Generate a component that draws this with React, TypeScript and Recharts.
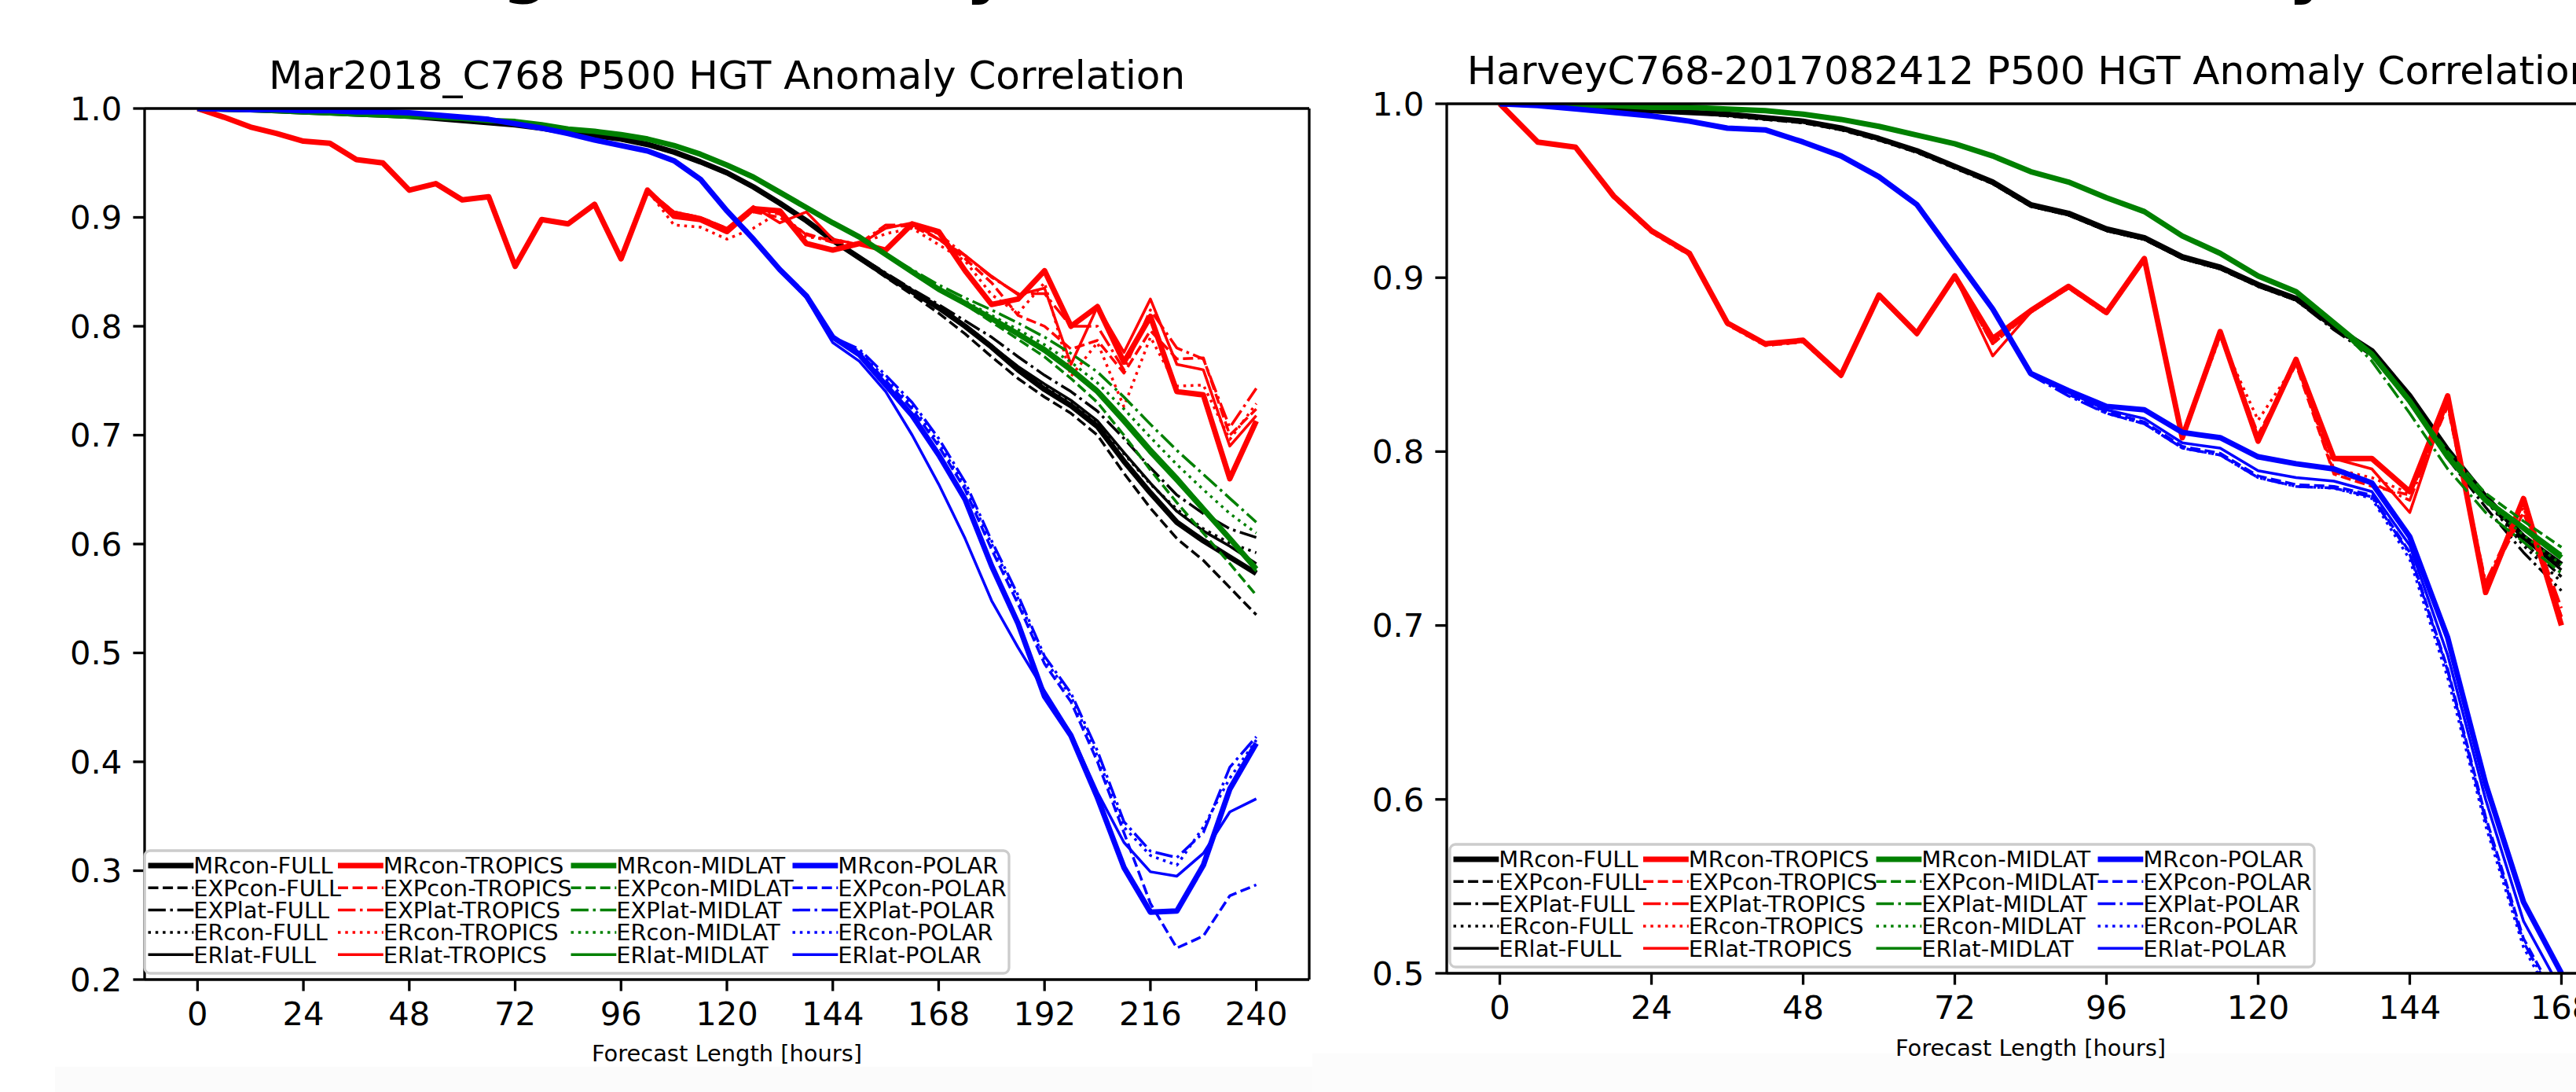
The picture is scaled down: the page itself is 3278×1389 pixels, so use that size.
import React from 'react';
import { LineChart, Line, XAxis, YAxis, ReferenceLine } from 'recharts';

const FONT = '"DejaVu Sans", Verdana, sans-serif';

// ---------------- x values and ticks ----------------
const marHours = [0, 6, 12, 18, 24, 30, 36, 42, 48, 54, 60, 66, 72, 78, 84, 90, 96, 102, 108, 114, 120, 126, 132, 138, 144, 150, 156, 162, 168, 174, 180, 186, 192, 198, 204, 210, 216, 222, 228, 234, 240];
const harHours = [0, 6, 12, 18, 24, 30, 36, 42, 48, 54, 60, 66, 72, 78, 84, 90, 96, 102, 108, 114, 120, 126, 132, 138, 144, 150, 156, 162, 168];
const marXTicks = [0, 24, 48, 72, 96, 120, 144, 168, 192, 216, 240];
const marYTicks = [0.2, 0.3, 0.4, 0.5, 0.6, 0.7, 0.8, 0.9, 1.0];
const harXTicks = [0, 24, 48, 72, 96, 120, 144, 168];
const harYTicks = [0.5, 0.6, 0.7, 0.8, 0.9, 1.0];

const regions = ['FULL', 'TROPICS', 'MIDLAT', 'POLAR'];
const experiments = ['MRcon', 'EXPcon', 'EXPlat', 'ERcon', 'ERlat'];

const marTitle = 'Mar2018_C768 P500 HGT Anomaly Correlation';
const harTitle = 'HarveyC768-2017082412 P500 HGT Anomaly Correlation';
const xLabel = 'Forecast Length [hours]';

// ---------------- Mar2018 panel (0-240 h) ----------------
const mar_MRcon_FULL = [1.0, 0.9995, 0.999, 0.998, 0.997, 0.996, 0.995, 0.994, 0.993, 0.991, 0.989, 0.987, 0.985, 0.982, 0.978, 0.975, 0.972, 0.967, 0.960, 0.951, 0.941, 0.928, 0.913, 0.897, 0.879, 0.863, 0.847, 0.832, 0.817, 0.800, 0.781, 0.760, 0.742, 0.727, 0.708, 0.676, 0.647, 0.620, 0.603, 0.588, 0.573];
const mar_EXPcon_FULL = [1.0, 0.9995, 0.999, 0.998, 0.997, 0.996, 0.995, 0.994, 0.993, 0.991, 0.989, 0.987, 0.985, 0.982, 0.978, 0.975, 0.971, 0.966, 0.959, 0.950, 0.940, 0.927, 0.912, 0.896, 0.878, 0.862, 0.845, 0.829, 0.812, 0.793, 0.772, 0.752, 0.735, 0.720, 0.700, 0.665, 0.633, 0.605, 0.585, 0.560, 0.535];
const mar_EXPlat_FULL = [1.0, 0.9995, 0.999, 0.998, 0.997, 0.996, 0.995, 0.994, 0.993, 0.991, 0.989, 0.987, 0.985, 0.982, 0.978, 0.975, 0.972, 0.967, 0.960, 0.951, 0.941, 0.928, 0.913, 0.897, 0.880, 0.864, 0.849, 0.834, 0.820, 0.805, 0.790, 0.772, 0.755, 0.740, 0.722, 0.697, 0.670, 0.645, 0.628, 0.614, 0.606];
const mar_ERcon_FULL = [1.0, 0.9995, 0.999, 0.998, 0.997, 0.996, 0.995, 0.994, 0.993, 0.991, 0.989, 0.987, 0.985, 0.982, 0.978, 0.975, 0.972, 0.967, 0.960, 0.951, 0.941, 0.928, 0.913, 0.897, 0.879, 0.863, 0.847, 0.832, 0.817, 0.800, 0.781, 0.762, 0.745, 0.730, 0.712, 0.683, 0.655, 0.632, 0.614, 0.601, 0.592];
const mar_ERlat_FULL = [1.0, 0.9995, 0.999, 0.998, 0.997, 0.996, 0.995, 0.994, 0.993, 0.991, 0.989, 0.987, 0.985, 0.982, 0.978, 0.975, 0.972, 0.967, 0.960, 0.951, 0.941, 0.928, 0.913, 0.897, 0.879, 0.864, 0.848, 0.833, 0.818, 0.801, 0.782, 0.763, 0.747, 0.732, 0.713, 0.684, 0.656, 0.630, 0.612, 0.598, 0.582];

const mar_MRcon_TROPICS = [1.0, 0.992, 0.983, 0.977, 0.970, 0.968, 0.953, 0.950, 0.925, 0.931, 0.916, 0.919, 0.855, 0.898, 0.894, 0.912, 0.862, 0.925, 0.901, 0.898, 0.887, 0.908, 0.906, 0.876, 0.870, 0.876, 0.870, 0.894, 0.887, 0.851, 0.820, 0.825, 0.851, 0.800, 0.818, 0.767, 0.809, 0.740, 0.737, 0.660, 0.713];
const mar_EXPcon_TROPICS = [1.0, 0.992, 0.983, 0.977, 0.970, 0.968, 0.953, 0.950, 0.925, 0.931, 0.916, 0.919, 0.855, 0.898, 0.894, 0.912, 0.862, 0.925, 0.905, 0.900, 0.890, 0.905, 0.900, 0.885, 0.878, 0.875, 0.892, 0.892, 0.880, 0.862, 0.840, 0.810, 0.800, 0.779, 0.787, 0.757, 0.796, 0.770, 0.771, 0.700, 0.724];
const mar_EXPlat_TROPICS = [1.0, 0.992, 0.983, 0.977, 0.970, 0.968, 0.953, 0.950, 0.925, 0.931, 0.916, 0.919, 0.855, 0.898, 0.894, 0.912, 0.862, 0.925, 0.903, 0.898, 0.888, 0.907, 0.903, 0.884, 0.877, 0.876, 0.893, 0.893, 0.885, 0.865, 0.845, 0.830, 0.830, 0.800, 0.800, 0.760, 0.815, 0.780, 0.770, 0.707, 0.743];
const mar_ERcon_TROPICS = [1.0, 0.992, 0.983, 0.977, 0.970, 0.968, 0.953, 0.950, 0.925, 0.931, 0.916, 0.919, 0.855, 0.898, 0.894, 0.912, 0.862, 0.925, 0.893, 0.891, 0.880, 0.890, 0.905, 0.882, 0.880, 0.875, 0.885, 0.890, 0.875, 0.860, 0.829, 0.812, 0.840, 0.754, 0.785, 0.726, 0.790, 0.745, 0.746, 0.696, 0.729];
const mar_ERlat_TROPICS = [1.0, 0.992, 0.983, 0.977, 0.970, 0.968, 0.953, 0.950, 0.925, 0.931, 0.916, 0.919, 0.855, 0.898, 0.894, 0.912, 0.862, 0.925, 0.905, 0.900, 0.890, 0.910, 0.895, 0.905, 0.880, 0.875, 0.890, 0.895, 0.880, 0.865, 0.846, 0.829, 0.835, 0.765, 0.818, 0.776, 0.825, 0.765, 0.760, 0.690, 0.718];

const mar_MRcon_MIDLAT = [1.0, 0.9995, 0.999, 0.998, 0.997, 0.996, 0.995, 0.994, 0.993, 0.992, 0.991, 0.989, 0.988, 0.985, 0.981, 0.979, 0.976, 0.972, 0.966, 0.958, 0.948, 0.937, 0.923, 0.909, 0.895, 0.882, 0.866, 0.850, 0.834, 0.821, 0.807, 0.793, 0.778, 0.760, 0.740, 0.713, 0.685, 0.659, 0.632, 0.605, 0.577];
const mar_EXPcon_MIDLAT = [1.0, 0.9995, 0.999, 0.998, 0.997, 0.996, 0.995, 0.994, 0.993, 0.992, 0.991, 0.989, 0.988, 0.985, 0.981, 0.979, 0.976, 0.972, 0.966, 0.958, 0.948, 0.937, 0.923, 0.909, 0.895, 0.882, 0.866, 0.850, 0.834, 0.820, 0.804, 0.788, 0.772, 0.752, 0.730, 0.700, 0.668, 0.638, 0.610, 0.582, 0.553];
const mar_EXPlat_MIDLAT = [1.0, 0.9995, 0.999, 0.998, 0.997, 0.996, 0.995, 0.994, 0.993, 0.992, 0.991, 0.989, 0.988, 0.985, 0.981, 0.979, 0.976, 0.972, 0.966, 0.958, 0.948, 0.937, 0.923, 0.909, 0.895, 0.882, 0.866, 0.852, 0.838, 0.826, 0.815, 0.803, 0.790, 0.775, 0.758, 0.735, 0.710, 0.686, 0.664, 0.642, 0.620];
const mar_ERcon_MIDLAT = [1.0, 0.9995, 0.999, 0.998, 0.997, 0.996, 0.995, 0.994, 0.993, 0.992, 0.991, 0.989, 0.988, 0.985, 0.981, 0.979, 0.976, 0.972, 0.966, 0.958, 0.948, 0.937, 0.923, 0.909, 0.895, 0.882, 0.866, 0.850, 0.834, 0.823, 0.810, 0.797, 0.783, 0.767, 0.748, 0.724, 0.698, 0.673, 0.650, 0.628, 0.610];
const mar_ERlat_MIDLAT = [1.0, 0.9995, 0.999, 0.998, 0.997, 0.996, 0.995, 0.994, 0.993, 0.992, 0.991, 0.989, 0.988, 0.985, 0.981, 0.979, 0.976, 0.972, 0.966, 0.958, 0.948, 0.937, 0.923, 0.909, 0.895, 0.882, 0.866, 0.850, 0.834, 0.822, 0.808, 0.794, 0.780, 0.762, 0.742, 0.716, 0.688, 0.662, 0.634, 0.606, 0.575];

const mar_MRcon_POLAR = [1.0, 0.9995, 0.999, 0.999, 0.998, 0.998, 0.997, 0.997, 0.996, 0.994, 0.992, 0.990, 0.986, 0.982, 0.977, 0.971, 0.966, 0.961, 0.952, 0.935, 0.906, 0.880, 0.852, 0.828, 0.790, 0.774, 0.746, 0.718, 0.682, 0.641, 0.580, 0.527, 0.460, 0.424, 0.367, 0.303, 0.262, 0.263, 0.305, 0.375, 0.417];
const mar_EXPcon_POLAR = [1.0, 0.9995, 0.999, 0.999, 0.998, 0.998, 0.997, 0.997, 0.996, 0.994, 0.992, 0.990, 0.986, 0.982, 0.977, 0.971, 0.966, 0.961, 0.952, 0.935, 0.906, 0.880, 0.852, 0.828, 0.790, 0.776, 0.750, 0.724, 0.690, 0.650, 0.595, 0.545, 0.490, 0.455, 0.400, 0.335, 0.270, 0.229, 0.240, 0.277, 0.287];
const mar_EXPlat_POLAR = [1.0, 0.9995, 0.999, 0.999, 0.998, 0.998, 0.997, 0.997, 0.996, 0.994, 0.992, 0.990, 0.986, 0.982, 0.977, 0.971, 0.966, 0.961, 0.952, 0.935, 0.906, 0.880, 0.852, 0.828, 0.790, 0.779, 0.755, 0.730, 0.697, 0.657, 0.603, 0.553, 0.497, 0.463, 0.410, 0.345, 0.318, 0.312, 0.335, 0.395, 0.423];
const mar_ERcon_POLAR = [1.0, 0.9995, 0.999, 0.999, 0.998, 0.998, 0.997, 0.997, 0.996, 0.994, 0.992, 0.990, 0.986, 0.982, 0.977, 0.971, 0.966, 0.961, 0.952, 0.935, 0.906, 0.880, 0.852, 0.828, 0.790, 0.777, 0.752, 0.727, 0.693, 0.653, 0.600, 0.550, 0.494, 0.460, 0.405, 0.340, 0.314, 0.305, 0.340, 0.385, 0.420];
const mar_ERlat_POLAR = [1.0, 0.9995, 0.999, 0.999, 0.998, 0.998, 0.997, 0.997, 0.996, 0.994, 0.992, 0.990, 0.986, 0.982, 0.977, 0.971, 0.966, 0.961, 0.952, 0.935, 0.906, 0.880, 0.852, 0.826, 0.785, 0.768, 0.740, 0.700, 0.655, 0.605, 0.548, 0.505, 0.465, 0.426, 0.372, 0.326, 0.299, 0.295, 0.316, 0.354, 0.366];

// ---------------- Harvey panel (0-168 h) ----------------
const har_MRcon_FULL = [1.0, 0.9995, 0.998, 0.997, 0.996, 0.995, 0.994, 0.992, 0.990, 0.986, 0.980, 0.973, 0.964, 0.955, 0.942, 0.937, 0.928, 0.923, 0.912, 0.906, 0.896, 0.888, 0.872, 0.858, 0.832, 0.801, 0.774, 0.751, 0.735];
const har_EXPcon_FULL = [1.0, 0.9995, 0.998, 0.997, 0.996, 0.995, 0.993, 0.991, 0.989, 0.985, 0.979, 0.972, 0.963, 0.954, 0.941, 0.936, 0.927, 0.922, 0.911, 0.905, 0.895, 0.887, 0.871, 0.857, 0.833, 0.800, 0.772, 0.748, 0.728];
const har_EXPlat_FULL = [1.0, 0.9995, 0.998, 0.997, 0.996, 0.995, 0.994, 0.992, 0.990, 0.986, 0.980, 0.973, 0.964, 0.955, 0.942, 0.936, 0.927, 0.922, 0.911, 0.905, 0.895, 0.887, 0.870, 0.855, 0.828, 0.796, 0.768, 0.742, 0.720];
const har_ERcon_FULL = [1.0, 0.9995, 0.998, 0.997, 0.996, 0.995, 0.993, 0.991, 0.989, 0.985, 0.979, 0.972, 0.963, 0.954, 0.941, 0.936, 0.927, 0.922, 0.911, 0.905, 0.895, 0.887, 0.871, 0.856, 0.830, 0.799, 0.772, 0.746, 0.725];
const har_ERlat_FULL = [1.0, 0.9995, 0.998, 0.997, 0.996, 0.995, 0.994, 0.992, 0.990, 0.986, 0.980, 0.973, 0.964, 0.954, 0.941, 0.936, 0.927, 0.922, 0.911, 0.905, 0.896, 0.888, 0.872, 0.857, 0.831, 0.800, 0.773, 0.750, 0.732];

const har_MRcon_TROPICS = [1.0, 0.978, 0.975, 0.947, 0.927, 0.914, 0.874, 0.862, 0.864, 0.844, 0.890, 0.868, 0.901, 0.865, 0.881, 0.895, 0.880, 0.911, 0.808, 0.869, 0.806, 0.853, 0.796, 0.796, 0.777, 0.832, 0.719, 0.773, 0.700];
const har_EXPcon_TROPICS = [1.0, 0.978, 0.975, 0.946, 0.926, 0.913, 0.873, 0.861, 0.863, 0.844, 0.889, 0.867, 0.900, 0.862, 0.880, 0.894, 0.879, 0.910, 0.809, 0.867, 0.810, 0.850, 0.787, 0.780, 0.775, 0.826, 0.722, 0.765, 0.705];
const har_EXPlat_TROPICS = [1.0, 0.978, 0.975, 0.947, 0.927, 0.914, 0.874, 0.862, 0.864, 0.844, 0.889, 0.868, 0.900, 0.862, 0.881, 0.895, 0.880, 0.910, 0.808, 0.868, 0.808, 0.852, 0.788, 0.782, 0.772, 0.828, 0.725, 0.770, 0.710];
const har_ERcon_TROPICS = [1.0, 0.978, 0.975, 0.946, 0.926, 0.913, 0.873, 0.861, 0.863, 0.843, 0.889, 0.867, 0.900, 0.862, 0.880, 0.894, 0.879, 0.910, 0.808, 0.866, 0.818, 0.851, 0.790, 0.785, 0.776, 0.828, 0.723, 0.768, 0.702];
const har_ERlat_TROPICS = [1.0, 0.978, 0.975, 0.947, 0.927, 0.914, 0.874, 0.862, 0.864, 0.844, 0.890, 0.868, 0.901, 0.855, 0.880, 0.895, 0.880, 0.911, 0.808, 0.869, 0.806, 0.853, 0.796, 0.790, 0.765, 0.830, 0.720, 0.772, 0.705];

const har_MRcon_MIDLAT = [1.0, 1.0, 0.999, 0.999, 0.998, 0.998, 0.997, 0.996, 0.994, 0.991, 0.987, 0.982, 0.977, 0.970, 0.961, 0.955, 0.946, 0.938, 0.924, 0.914, 0.901, 0.892, 0.874, 0.856, 0.829, 0.797, 0.772, 0.756, 0.739];
const har_EXPcon_MIDLAT = [1.0, 1.0, 0.999, 0.999, 0.998, 0.998, 0.997, 0.996, 0.994, 0.991, 0.987, 0.982, 0.977, 0.970, 0.961, 0.955, 0.946, 0.938, 0.924, 0.914, 0.901, 0.892, 0.874, 0.856, 0.829, 0.800, 0.776, 0.760, 0.745];
const har_EXPlat_MIDLAT = [1.0, 1.0, 0.999, 0.999, 0.998, 0.998, 0.997, 0.996, 0.994, 0.991, 0.987, 0.982, 0.977, 0.970, 0.961, 0.955, 0.946, 0.938, 0.924, 0.914, 0.901, 0.892, 0.874, 0.852, 0.822, 0.790, 0.765, 0.748, 0.730];
const har_ERcon_MIDLAT = [1.0, 1.0, 0.999, 0.999, 0.998, 0.998, 0.997, 0.996, 0.994, 0.991, 0.987, 0.982, 0.977, 0.970, 0.961, 0.955, 0.946, 0.938, 0.924, 0.914, 0.901, 0.892, 0.874, 0.856, 0.829, 0.798, 0.771, 0.752, 0.735];
const har_ERlat_MIDLAT = [1.0, 1.0, 0.999, 0.999, 0.998, 0.998, 0.997, 0.996, 0.994, 0.991, 0.987, 0.982, 0.977, 0.970, 0.961, 0.955, 0.946, 0.938, 0.924, 0.914, 0.901, 0.892, 0.874, 0.856, 0.828, 0.797, 0.773, 0.757, 0.741];

const har_MRcon_POLAR = [1.0, 0.999, 0.997, 0.995, 0.993, 0.990, 0.986, 0.985, 0.978, 0.970, 0.958, 0.942, 0.912, 0.882, 0.845, 0.835, 0.826, 0.824, 0.811, 0.808, 0.797, 0.793, 0.790, 0.782, 0.751, 0.693, 0.609, 0.541, 0.500];
const har_EXPcon_POLAR = [1.0, 0.999, 0.997, 0.995, 0.993, 0.990, 0.986, 0.985, 0.978, 0.970, 0.958, 0.942, 0.912, 0.882, 0.845, 0.833, 0.823, 0.817, 0.803, 0.799, 0.786, 0.781, 0.780, 0.775, 0.742, 0.675, 0.590, 0.520, 0.480];
const har_EXPlat_POLAR = [1.0, 0.999, 0.997, 0.995, 0.993, 0.990, 0.986, 0.985, 0.978, 0.970, 0.958, 0.942, 0.912, 0.882, 0.844, 0.832, 0.822, 0.816, 0.802, 0.798, 0.785, 0.780, 0.779, 0.774, 0.741, 0.674, 0.588, 0.518, 0.478];
const har_ERcon_POLAR = [1.0, 0.999, 0.997, 0.995, 0.993, 0.990, 0.986, 0.985, 0.978, 0.970, 0.958, 0.942, 0.912, 0.882, 0.845, 0.833, 0.822, 0.816, 0.802, 0.798, 0.785, 0.780, 0.779, 0.773, 0.738, 0.670, 0.585, 0.515, 0.475];
const har_ERlat_POLAR = [1.0, 0.999, 0.997, 0.995, 0.993, 0.990, 0.986, 0.985, 0.978, 0.970, 0.958, 0.942, 0.912, 0.882, 0.845, 0.834, 0.824, 0.819, 0.805, 0.802, 0.789, 0.785, 0.783, 0.777, 0.746, 0.683, 0.600, 0.530, 0.490];

// ---------------- styling ----------------
const regionColors: Record<string, string> = {
  FULL: '#000000',
  TROPICS: '#ff0000',
  MIDLAT: '#008000',
  POLAR: '#0000ff',
};
const expStyle: Record<string, { w: number; dash?: string }> = {
  MRcon: { w: 7 },
  EXPcon: { w: 3.5, dash: '13 5.6' },
  EXPlat: { w: 3.5, dash: '22.4 5.6 3.5 5.6' },
  ERcon: { w: 3.5, dash: '3.5 5.8' },
  ERlat: { w: 3.5 },
};

const marSeries: Record<string, number[]> = {
  'MRcon-FULL': mar_MRcon_FULL, 'EXPcon-FULL': mar_EXPcon_FULL, 'EXPlat-FULL': mar_EXPlat_FULL, 'ERcon-FULL': mar_ERcon_FULL, 'ERlat-FULL': mar_ERlat_FULL,
  'MRcon-TROPICS': mar_MRcon_TROPICS, 'EXPcon-TROPICS': mar_EXPcon_TROPICS, 'EXPlat-TROPICS': mar_EXPlat_TROPICS, 'ERcon-TROPICS': mar_ERcon_TROPICS, 'ERlat-TROPICS': mar_ERlat_TROPICS,
  'MRcon-MIDLAT': mar_MRcon_MIDLAT, 'EXPcon-MIDLAT': mar_EXPcon_MIDLAT, 'EXPlat-MIDLAT': mar_EXPlat_MIDLAT, 'ERcon-MIDLAT': mar_ERcon_MIDLAT, 'ERlat-MIDLAT': mar_ERlat_MIDLAT,
  'MRcon-POLAR': mar_MRcon_POLAR, 'EXPcon-POLAR': mar_EXPcon_POLAR, 'EXPlat-POLAR': mar_EXPlat_POLAR, 'ERcon-POLAR': mar_ERcon_POLAR, 'ERlat-POLAR': mar_ERlat_POLAR,
};
const harSeries: Record<string, number[]> = {
  'MRcon-FULL': har_MRcon_FULL, 'EXPcon-FULL': har_EXPcon_FULL, 'EXPlat-FULL': har_EXPlat_FULL, 'ERcon-FULL': har_ERcon_FULL, 'ERlat-FULL': har_ERlat_FULL,
  'MRcon-TROPICS': har_MRcon_TROPICS, 'EXPcon-TROPICS': har_EXPcon_TROPICS, 'EXPlat-TROPICS': har_EXPlat_TROPICS, 'ERcon-TROPICS': har_ERcon_TROPICS, 'ERlat-TROPICS': har_ERlat_TROPICS,
  'MRcon-MIDLAT': har_MRcon_MIDLAT, 'EXPcon-MIDLAT': har_EXPcon_MIDLAT, 'EXPlat-MIDLAT': har_EXPlat_MIDLAT, 'ERcon-MIDLAT': har_ERcon_MIDLAT, 'ERlat-MIDLAT': har_ERlat_MIDLAT,
  'MRcon-POLAR': har_MRcon_POLAR, 'EXPcon-POLAR': har_EXPcon_POLAR, 'EXPlat-POLAR': har_EXPlat_POLAR, 'ERcon-POLAR': har_ERcon_POLAR, 'ERlat-POLAR': har_ERlat_POLAR,
};

function buildTable(hours: number[], series: Record<string, number[]>) {
  return hours.map((h, i) => {
    const row: Record<string, number> = { h };
    Object.keys(series).forEach((k) => {
      row[k] = series[k][i];
    });
    return row;
  });
}

const marTable = buildTable(marHours, marSeries);
const harTable = buildTable(harHours, harSeries);

const SPINE = 3.3;
const TICK_FONT = 41.7;

type PanelProps = {
  table: Record<string, number>[];
  plotLeft: number;
  plotTop: number;
  plotBottom: number;
  plotWidth: number;
  xDomain: [number, number];
  xTicks: number[];
  yDomain: [number, number];
  yTicks: number[];
  drawRight: boolean;
};

function Panel(p: PanelProps) {
  const yAxisW = 184;
  const rightM = 20;
  const w = yAxisW + p.plotWidth + rightM;
  const tickStyle = { fill: '#000', fontSize: TICK_FONT, fontFamily: FONT };
  return (
    <div style={{ position: 'absolute', left: p.plotLeft - yAxisW, top: 0 }}>
      <LineChart width={w} height={1389} data={p.table} margin={{ top: p.plotTop, right: rightM, bottom: 0, left: 0 }}>
        <XAxis
          dataKey="h"
          type="number"
          domain={p.xDomain}
          ticks={p.xTicks}
          interval={0}
          allowDataOverflow
          height={1389 - p.plotBottom}
          tickSize={14.6}
          tickMargin={14}
          tick={tickStyle}
          axisLine={{ stroke: '#000', strokeWidth: SPINE }}
          tickLine={{ stroke: '#000', strokeWidth: SPINE }}
        />
        <YAxis
          type="number"
          domain={p.yDomain}
          ticks={p.yTicks}
          interval={0}
          allowDataOverflow
          width={yAxisW}
          tickSize={14.6}
          tickMargin={14}
          tick={tickStyle}
          tickFormatter={(v: number) => v.toFixed(1)}
          axisLine={{ stroke: '#000', strokeWidth: SPINE }}
          tickLine={{ stroke: '#000', strokeWidth: SPINE }}
        />
        {regions.map((reg) =>
          experiments.map((exp) => {
            const st = expStyle[exp];
            return (
              <Line
                key={`${exp}-${reg}`}
                dataKey={`${exp}-${reg}`}
                type="linear"
                stroke={regionColors[reg]}
                strokeWidth={st.w}
                strokeDasharray={st.dash}
                strokeLinejoin="round"
                dot={false}
                activeDot={false}
                isAnimationActive={false}
              />
            );
          })
        )}
        <ReferenceLine y={p.yDomain[1]} stroke="#000" strokeWidth={SPINE} />
        {p.drawRight ? <ReferenceLine x={p.xDomain[1]} stroke="#000" strokeWidth={SPINE} /> : null}
      </LineChart>
    </div>
  );
}

function LegendBox({ x, y, w, h, row0, dy }: { x: number; y: number; w: number; h: number; row0: number; dy: number }) {
  const colOff = [4.5, 246, 542.5, 824.5];
  const handle = 57.8;
  return (
    <g>
      <rect x={x} y={y} width={w} height={h} rx={7} fill="#ffffff" fillOpacity={0.8} stroke="#cccccc" strokeWidth={3.3} />
      {regions.map((reg, ci) =>
        experiments.map((exp, ri) => {
          const hx = x + colOff[ci];
          const yy = row0 + dy * ri;
          const st = expStyle[exp];
          return (
            <g key={`lg-${exp}-${reg}`}>
              <line x1={hx} x2={hx + handle} y1={yy} y2={yy} stroke={regionColors[reg]} strokeWidth={st.w} strokeDasharray={st.dash} />
              <text x={hx + handle} y={yy} dy="0.36em" fontSize={28.9} fontFamily={FONT} fill="#000">
                {`${exp}-${reg}`}
              </text>
            </g>
          );
        })
      )}
    </g>
  );
}

export default function App() {
  return (
    <div style={{ position: 'absolute', left: 0, top: 0, width: 3278, height: 1389, overflow: 'hidden', background: '#ffffff' }}>
      <svg width={3278} height={1389} style={{ position: 'absolute', left: 0, top: 0 }}>
        <rect x={70} y={1357} width={1600} height={32} fill="#fbfbfb" />
        <rect x={1670} y={1340} width={1608} height={49} fill="#fcfcfc" />
      </svg>
      <Panel
        table={marTable}
        plotLeft={184}
        plotTop={138}
        plotBottom={1246}
        plotWidth={1482}
        xDomain={[-12, 252]}
        xTicks={marXTicks}
        yDomain={[0.2, 1.0]}
        yTicks={marYTicks}
        drawRight={true}
      />
      <Panel
        table={harTable}
        plotLeft={1841}
        plotTop={132}
        plotBottom={1238}
        plotWidth={1486}
        xDomain={[-8.4, 176.4]}
        xTicks={harXTicks}
        yDomain={[0.5, 1.0]}
        yTicks={harYTicks}
        drawRight={true}
      />
      <svg width={3278} height={1389} style={{ position: 'absolute', left: 0, top: 0, pointerEvents: 'none' }}>
        <text x={669} y={-12} fontSize={84} fontWeight="bold" fontFamily={FONT} textAnchor="middle">g</text>
        <text x={1256} y={-12} fontSize={84} fontWeight="bold" fontFamily={FONT} textAnchor="middle">y</text>
        <text x={2939} y={-12} fontSize={84} fontWeight="bold" fontFamily={FONT} textAnchor="middle">y</text>
        <text x={925} y={113} fontSize={50} fontFamily={FONT} textAnchor="middle" fill="#000">{marTitle}</text>
        <text x={2584} y={107} fontSize={50} fontFamily={FONT} textAnchor="middle" fill="#000">{harTitle}</text>
        <text x={925} y={1350} fontSize={28.9} fontFamily={FONT} textAnchor="middle" fill="#000">{xLabel}</text>
        <text x={2584} y={1343} fontSize={28.9} fontFamily={FONT} textAnchor="middle" fill="#000">{xLabel}</text>
        <LegendBox x={184} y={1082} w={1100} h={156} row0={1101} dy={28.3} />
        <LegendBox x={1845} y={1074} w={1100} h={156} row0={1093} dy={28.3} />
      </svg>
    </div>
  );
}
